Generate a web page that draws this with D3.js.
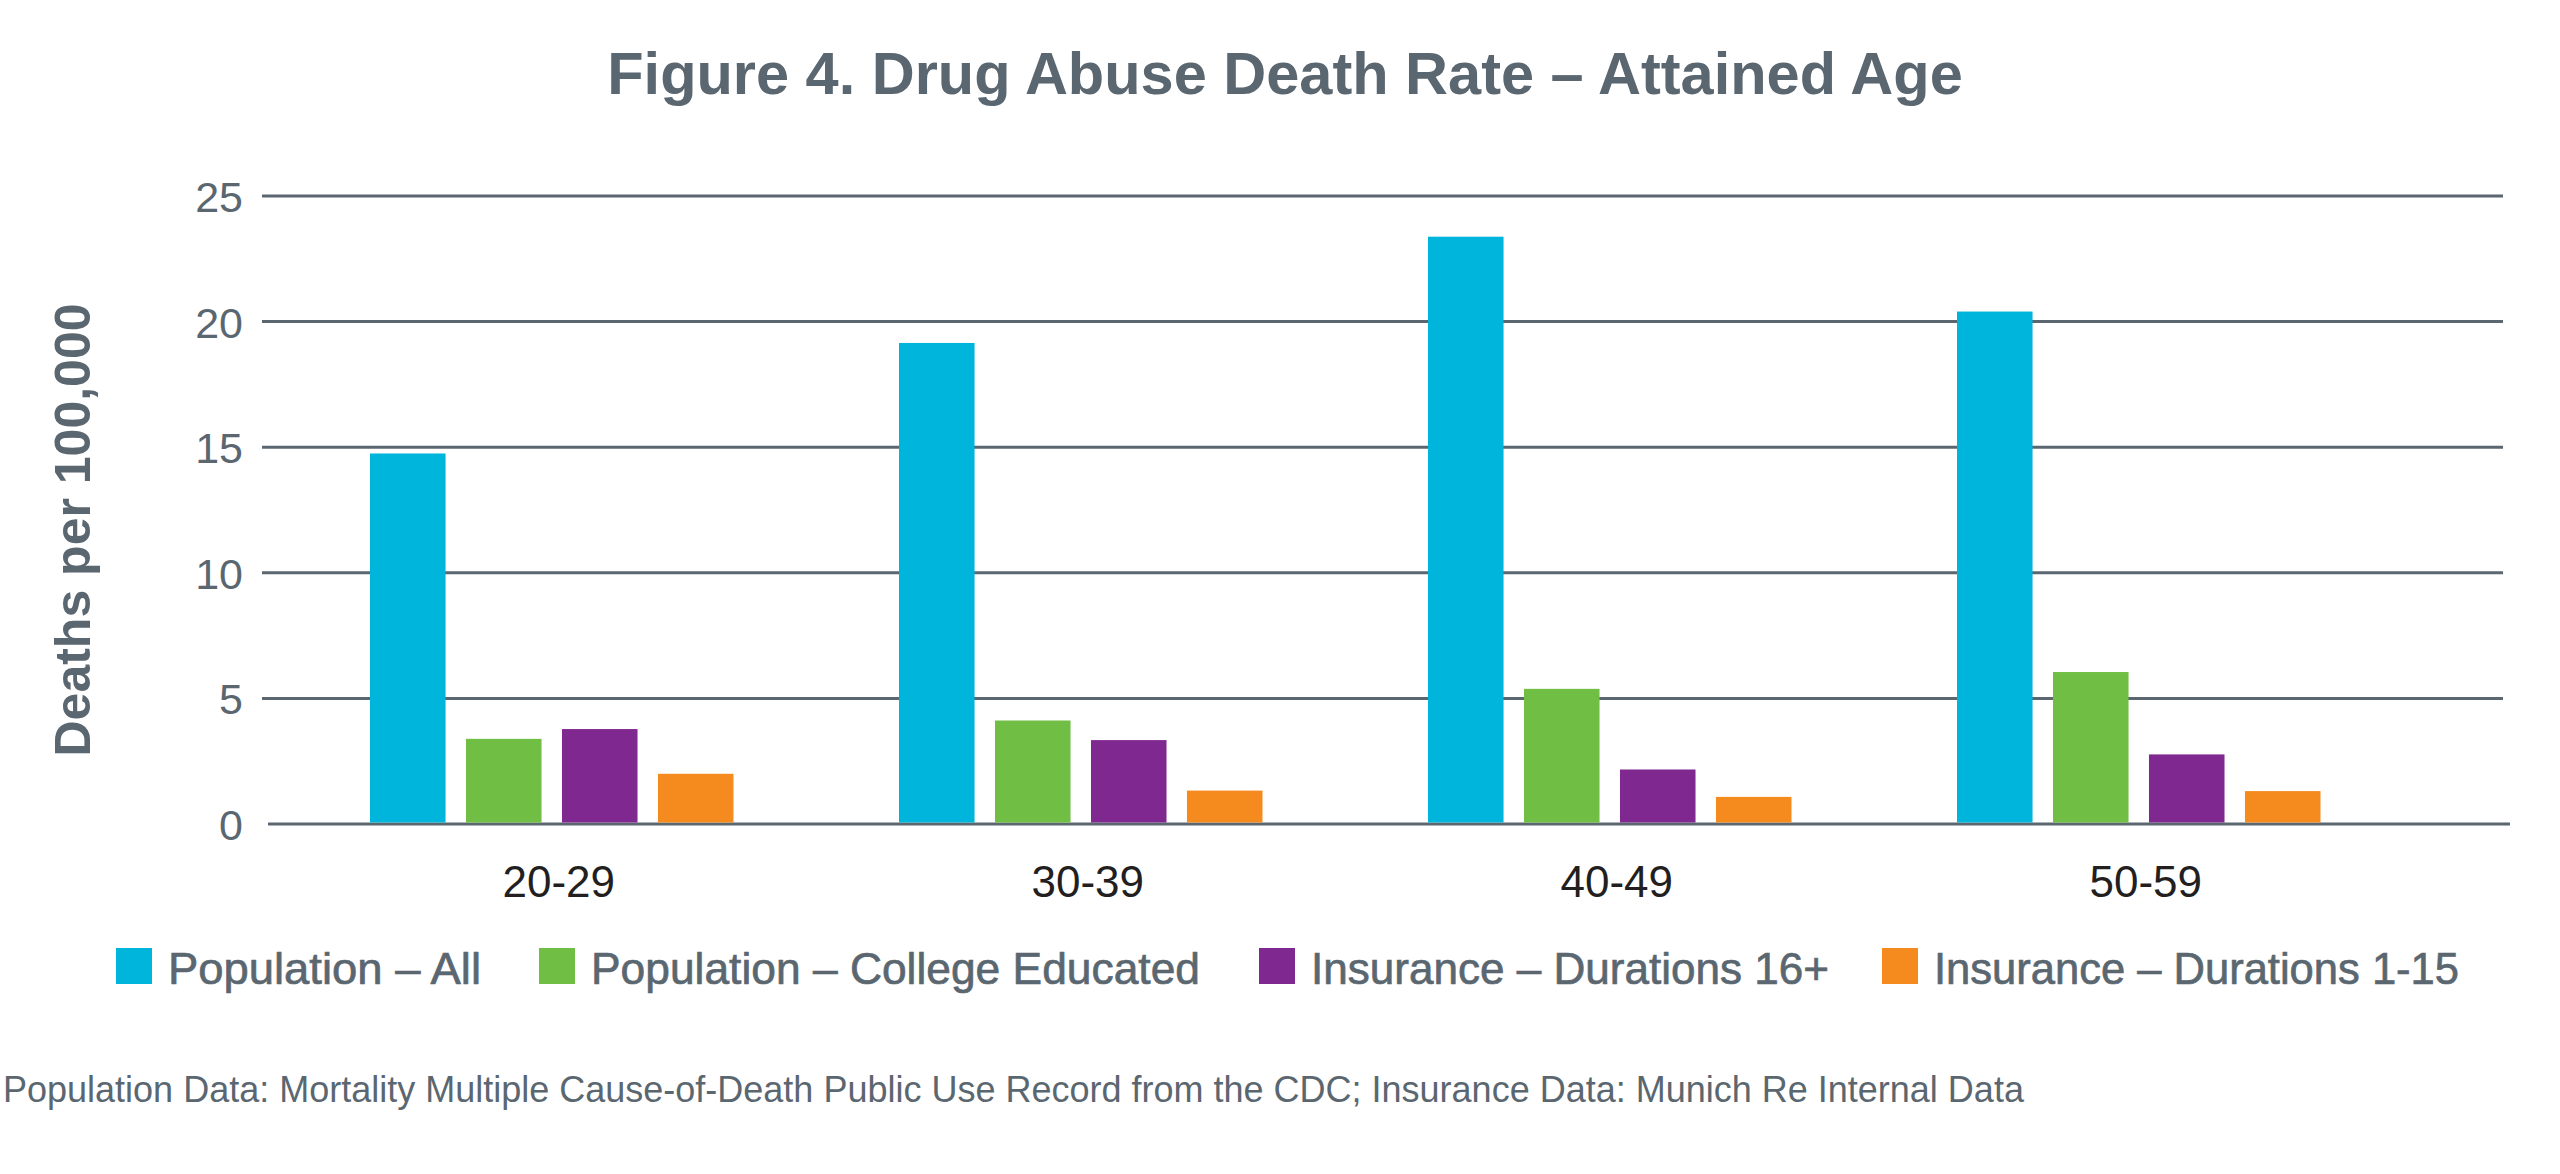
<!DOCTYPE html>
<html>
<head>
<meta charset="utf-8">
<script src="https://cdn.jsdelivr.net/npm/d3@7"></script>
<style>
  html, body { margin: 0; padding: 0; background: #ffffff; }
  svg { display: block; }
</style>
</head>
<body>
<svg id="chart" width="2560" height="1174"></svg>
<script>
// ---- Data ----
const categories = ["20-29", "30-39", "40-49", "50-59"];
const seriesNames = [
  "Population \u2013 All",
  "Population \u2013 College Educated",
  "Insurance \u2013 Durations 16+",
  "Insurance \u2013 Durations 1-15"
];
const populationAll      = [14.75, 19.15, 23.38, 20.40];
const populationCollege  = [3.39, 4.12, 5.38, 6.05];
const insuranceDur16     = [3.78, 3.34, 2.17, 2.77];
const insuranceDur1to15  = [2.00, 1.33, 1.08, 1.31];
const yTicks = [0, 5, 10, 15, 20, 25];
const seriesColors = ["#00b5dc", "#70bf44", "#7f288f", "#f58b1f"];

const titleText = "Figure 4. Drug Abuse Death Rate \u2013 Attained Age";
const yAxisTitle = "Deaths per 100,000";
const footnote = "Population Data: Mortality Multiple Cause-of-Death Public Use Record from the CDC; Insurance Data: Munich Re Internal Data";

const seriesValues = [populationAll, populationCollege, insuranceDur16, insuranceDur1to15];
const table = categories.map((c, i) => ({
  category: c,
  values: seriesNames.map((s, j) => ({ series: s, idx: j, value: seriesValues[j][i] }))
}));

// ---- Layout ----
const FONT = "'Liberation Sans', Arial, Helvetica, sans-serif";
const GRAY = "#5b6770";
const svg = d3.select("#chart");

const gridX0 = 262, gridX1 = 2503;
const y = d3.scaleLinear().domain([0, 25]).range([824, 196]);

const STEP = 529, PI = 1 - 363.5 / 529;
const x0 = d3.scaleBand().domain(categories)
  .range([370, 370 + STEP * (4 - PI)])
  .paddingInner(PI).paddingOuter(0);
const x1 = d3.scaleBand().domain(d3.range(seriesNames.length))
  .range([0, x0.bandwidth()])
  .paddingInner(0.213).paddingOuter(0);

// Title
svg.append("text")
  .attr("x", 1285).attr("y", 94)
  .attr("text-anchor", "middle")
  .attr("font-family", FONT).attr("font-weight", "bold")
  .attr("font-size", 59.5).attr("fill", GRAY)
  .text(titleText);

// Gridlines
svg.append("g").selectAll("line").data(yTicks).join("line")
  .attr("x1", d => d === 0 ? gridX0 + 6 : gridX0)
  .attr("x2", d => d === 0 ? gridX1 + 7 : gridX1)
  .attr("y1", d => y(d)).attr("y2", d => y(d))
  .attr("stroke", GRAY).attr("stroke-width", 3);

// Y axis tick labels via d3 axis
const yAxis = d3.axisLeft(y).tickValues(yTicks).tickSize(0).tickPadding(0).tickFormat(d3.format("d"));
const gy = svg.append("g").attr("transform", "translate(243,0)").call(yAxis);
gy.select(".domain").remove();
gy.selectAll("text")
  .attr("font-family", FONT).attr("font-size", 43).attr("fill", GRAY)
  .attr("dy", "0.36em");

// Bars
const groups = svg.append("g").selectAll("g").data(table).join("g")
  .attr("transform", d => `translate(${x0(d.category)},0)`);
groups.selectAll("rect").data(d => d.values).join("rect")
  .attr("x", d => x1(d.idx))
  .attr("width", x1.bandwidth())
  .attr("y", d => y(d.value))
  .attr("height", d => y(0) - y(d.value) - 1.5)
  .attr("fill", d => seriesColors[d.idx]);

// X axis labels via d3 axis
const xAxis = d3.axisBottom(x0).tickSize(0).tickPadding(0);
const gx = svg.append("g").attr("transform", "translate(7,897)").call(xAxis);
gx.select(".domain").remove();
gx.selectAll("text")
  .attr("font-family", FONT).attr("font-size", 44).attr("fill", "#231f20")
  .attr("dy", 0).attr("y", 0);

// Y axis title
svg.append("text")
  .attr("transform", "translate(90,530) rotate(-90)")
  .attr("text-anchor", "middle")
  .attr("font-family", FONT).attr("font-weight", "bold")
  .attr("font-size", 50).attr("fill", GRAY)
  .text(yAxisTitle);

// Legend (layout positions and text extents)
const legendX = [116, 539, 1259, 1882];
const legendTextW = [313, 609, 518, 525];
const legend = svg.append("g");
seriesNames.forEach((name, i) => {
  legend.append("rect")
    .attr("x", legendX[i]).attr("y", 948).attr("width", 36).attr("height", 36)
    .attr("fill", seriesColors[i]);
  legend.append("text")
    .attr("x", legendX[i] + 52).attr("y", 984)
    .attr("font-family", FONT).attr("font-size", 44.5)
    .attr("textLength", legendTextW[i]).attr("lengthAdjust", "spacingAndGlyphs")
    .attr("fill", GRAY).attr("stroke", GRAY).attr("stroke-width", 0.7)
    .text(name);
});

// Footnote
svg.append("text")
  .attr("x", 3).attr("y", 1102)
  .attr("font-family", FONT).attr("font-size", 36).attr("fill", GRAY)
  .text(footnote);
</script>
</body>
</html>
